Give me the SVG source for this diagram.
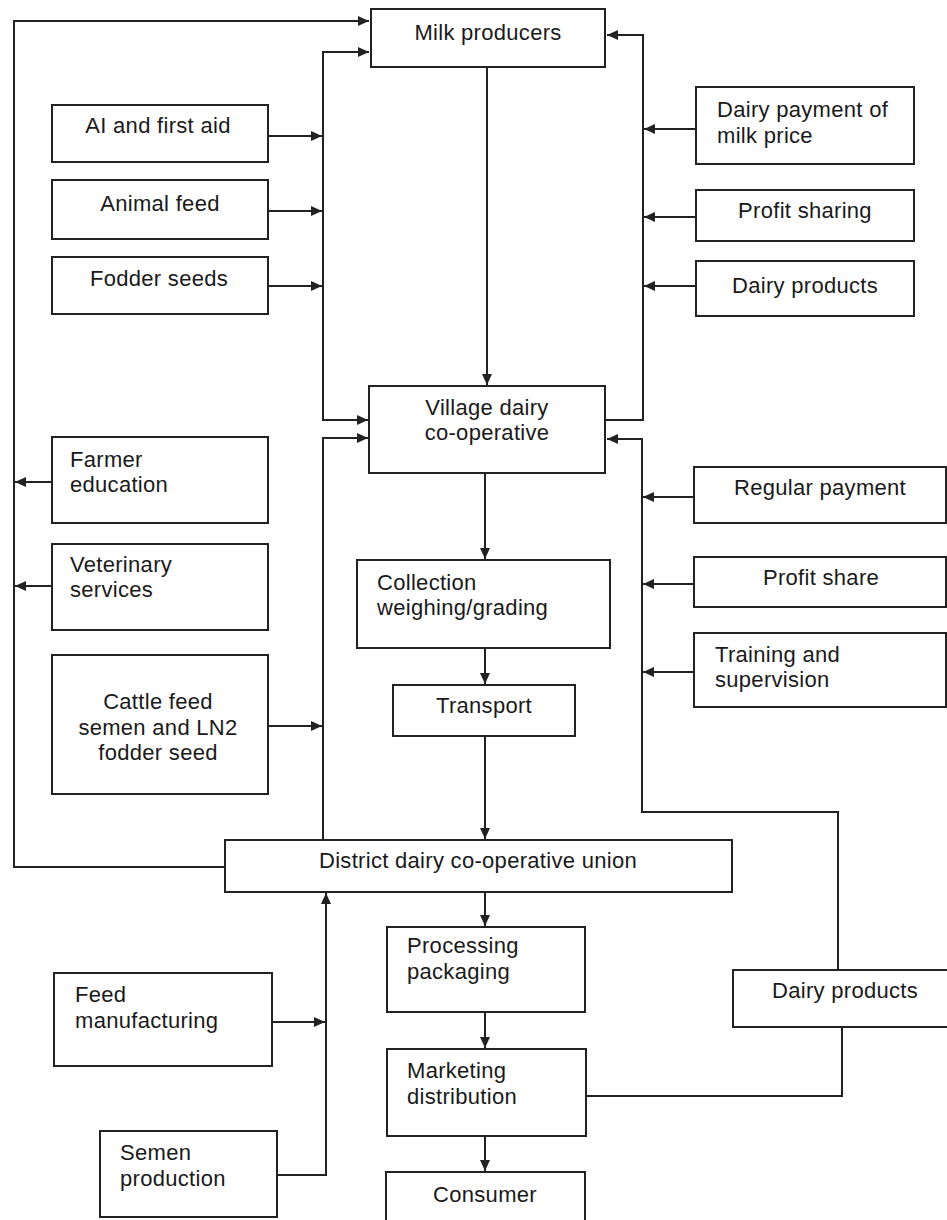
<svg xmlns="http://www.w3.org/2000/svg" width="947" height="1220" viewBox="0 0 947 1220">
<style>
.box{fill:#fff;stroke:#222;stroke-width:2}
.t{font-family:"Liberation Sans",Arial,sans-serif;font-size:22px;letter-spacing:0.3px;fill:#1a1a1a}
.c{text-anchor:middle}
.ln{fill:none;stroke:#222;stroke-width:2}
</style>
<defs>
<marker id="ah" markerUnits="userSpaceOnUse" markerWidth="12" markerHeight="10" refX="11" refY="5" orient="auto">
<path d="M0,0 L11,5 L0,10 z" fill="#222"/>
</marker>
</defs>
<rect width="947" height="1220" fill="#fff"/>
<g id="connectors">
<path class="ln" d="M225,867 H14 V21 H369" marker-end="url(#ah)"/>
<path class="ln" d="M323,420 V52 H369" marker-end="url(#ah)"/>
<path class="ln" d="M323,52 V420 H368" marker-end="url(#ah)"/>
<path class="ln" d="M268,136 H322" marker-end="url(#ah)"/>
<path class="ln" d="M268,211 H322" marker-end="url(#ah)"/>
<path class="ln" d="M268,286 H322" marker-end="url(#ah)"/>
<path class="ln" d="M323,840 V438 H368" marker-end="url(#ah)"/>
<path class="ln" d="M268,726 H322" marker-end="url(#ah)"/>
<path class="ln" d="M487,67 V385" marker-end="url(#ah)"/>
<path class="ln" d="M605,420 H643 V35 H607" marker-end="url(#ah)"/>
<path class="ln" d="M696,129 H644" marker-end="url(#ah)"/>
<path class="ln" d="M696,217 H644" marker-end="url(#ah)"/>
<path class="ln" d="M696,286 H644" marker-end="url(#ah)"/>
<path class="ln" d="M52,482 H15" marker-end="url(#ah)"/>
<path class="ln" d="M52,586 H15" marker-end="url(#ah)"/>
<path class="ln" d="M838,970 V812 H642 V439 H607" marker-end="url(#ah)"/>
<path class="ln" d="M694,497 H643" marker-end="url(#ah)"/>
<path class="ln" d="M694,584 H643" marker-end="url(#ah)"/>
<path class="ln" d="M694,672 H643" marker-end="url(#ah)"/>
<path class="ln" d="M485,473 V559" marker-end="url(#ah)"/>
<path class="ln" d="M485,648 V684" marker-end="url(#ah)"/>
<path class="ln" d="M485,736 V839" marker-end="url(#ah)"/>
<path class="ln" d="M485,892 V926" marker-end="url(#ah)"/>
<path class="ln" d="M485,1012 V1048" marker-end="url(#ah)"/>
<path class="ln" d="M485,1136 V1171" marker-end="url(#ah)"/>
<path class="ln" d="M586,1096 H842 V1027"/>
<path class="ln" d="M272,1022 H325" marker-end="url(#ah)"/>
<path class="ln" d="M277,1175 H326 V893" marker-end="url(#ah)"/>
</g>
<g id="milk-producers"><rect class="box" x="371" y="9" width="234" height="58"/><text class="t c" x="488" y="40">Milk producers</text></g>
<g id="ai-first-aid"><rect class="box" x="52" y="105" width="216" height="57"/><text class="t c" x="158" y="133">AI and first aid</text></g>
<g id="animal-feed"><rect class="box" x="52" y="180" width="216" height="59"/><text class="t c" x="160" y="211">Animal feed</text></g>
<g id="fodder-seeds"><rect class="box" x="52" y="257" width="216" height="57"/><text class="t c" x="159" y="286">Fodder seeds</text></g>
<g id="dairy-payment"><rect class="box" x="696" y="87" width="218" height="77"/><text class="t" x="717" y="117">Dairy payment of</text><text class="t" x="717" y="143">milk price</text></g>
<g id="profit-sharing"><rect class="box" x="696" y="190" width="218" height="51"/><text class="t c" x="805" y="218">Profit sharing</text></g>
<g id="dairy-products-top"><rect class="box" x="696" y="261" width="218" height="55"/><text class="t c" x="805" y="293">Dairy products</text></g>
<g id="village-dairy"><rect class="box" x="369" y="386" width="236" height="87"/><text class="t c" x="487" y="415">Village dairy</text><text class="t c" x="487" y="440">co-operative</text></g>
<g id="farmer-education"><rect class="box" x="52" y="437" width="216" height="86"/><text class="t" x="70" y="467">Farmer</text><text class="t" x="70" y="492">education</text></g>
<g id="veterinary-services"><rect class="box" x="52" y="544" width="216" height="86"/><text class="t" x="70" y="572">Veterinary</text><text class="t" x="70" y="597">services</text></g>
<g id="regular-payment"><rect class="box" x="694" y="467" width="252" height="56"/><text class="t c" x="820" y="495">Regular payment</text></g>
<g id="collection"><rect class="box" x="357" y="560" width="253" height="88"/><text class="t" x="377" y="590">Collection</text><text class="t" x="377" y="615">weighing/grading</text></g>
<g id="profit-share"><rect class="box" x="694" y="557" width="252" height="50"/><text class="t c" x="821" y="585">Profit share</text></g>
<g id="training"><rect class="box" x="694" y="633" width="252" height="74"/><text class="t" x="715" y="662">Training and</text><text class="t" x="715" y="687">supervision</text></g>
<g id="cattle-feed"><rect class="box" x="52" y="655" width="216" height="139"/><text class="t c" x="158" y="709">Cattle feed</text><text class="t c" x="158" y="735">semen and LN2</text><text class="t c" x="158" y="760">fodder seed</text></g>
<g id="transport"><rect class="box" x="393" y="685" width="182" height="51"/><text class="t c" x="484" y="713">Transport</text></g>
<g id="district-union"><rect class="box" x="225" y="840" width="507" height="52"/><text class="t c" x="478" y="868">District dairy co-operative union</text></g>
<g id="processing"><rect class="box" x="387" y="927" width="198" height="85"/><text class="t" x="407" y="953">Processing</text><text class="t" x="407" y="979">packaging</text></g>
<g id="dairy-products-bottom"><rect class="box" x="733" y="970" width="230" height="57"/><text class="t c" x="845" y="998">Dairy products</text></g>
<g id="feed-manufacturing"><rect class="box" x="54" y="973" width="218" height="93"/><text class="t" x="75" y="1002">Feed</text><text class="t" x="75" y="1028">manufacturing</text></g>
<g id="marketing"><rect class="box" x="387" y="1049" width="199" height="87"/><text class="t" x="407" y="1078">Marketing</text><text class="t" x="407" y="1104">distribution</text></g>
<g id="semen-production"><rect class="box" x="100" y="1131" width="177" height="86"/><text class="t" x="120" y="1160">Semen</text><text class="t" x="120" y="1186">production</text></g>
<g id="consumer"><rect class="box" x="386" y="1172" width="199" height="60"/><text class="t c" x="485" y="1202">Consumer</text></g>
</svg>
